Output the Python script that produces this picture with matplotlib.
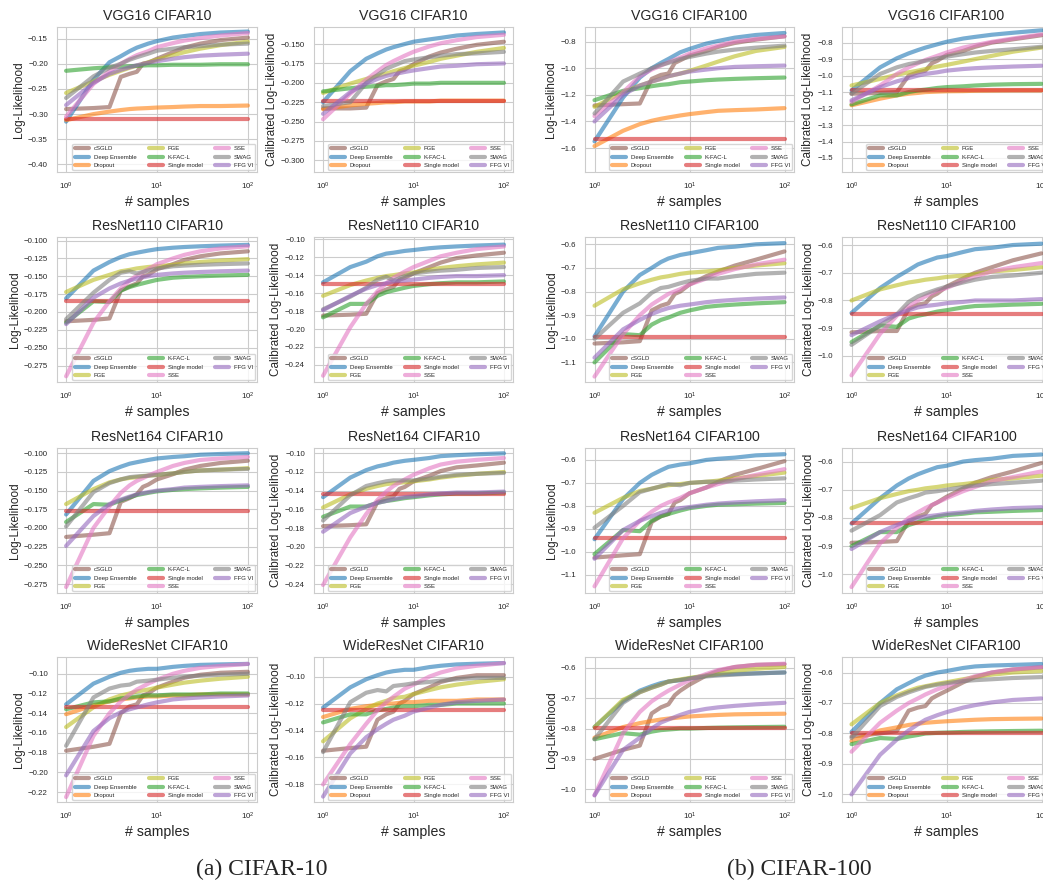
import numpy as np
import matplotlib
matplotlib.use('Agg')
import matplotlib.pyplot as plt
import seaborn as sns
from matplotlib.ticker import MultipleLocator

sns.set_style('whitegrid')
plt.rcParams['font.family'] = ['Liberation Sans', 'DejaVu Sans']

# number of samples in the ensemble
X = [1, 2, 3, 4, 5, 6, 8, 10, 15, 20, 30, 50, 100]
X_CSGLD = [1, 2, 3, 4, 5, 6, 7, 8, 10, 15, 20, 30, 50, 100]
X_SINGLE = [1, 100]

# ---- CIFAR10 ----
vgg16_c10_ll = {
    'cSGLD': [-0.290, -0.288, -0.286, -0.226, -0.220, -0.216, -0.200, -0.198, -0.190, -0.177, -0.168, -0.160, -0.153, -0.148],
    'Deep Ensemble': [-0.315, -0.232, -0.197, -0.185, -0.175, -0.168, -0.160, -0.155, -0.148, -0.145, -0.141, -0.138, -0.136],
    'Dropout': [-0.312, -0.300, -0.295, -0.292, -0.290, -0.289, -0.288, -0.287, -0.286, -0.285, -0.284, -0.284, -0.283],
    'FGE': [-0.258, -0.235, -0.222, -0.214, -0.208, -0.204, -0.197, -0.192, -0.183, -0.177, -0.170, -0.163, -0.156],
    'K-FAC-L': [-0.214, -0.209, -0.207, -0.206, -0.205, -0.204, -0.203, -0.203, -0.202, -0.202, -0.202, -0.201, -0.201],
    'Single model': [-0.309, -0.309],
    'SSE': [-0.305, -0.240, -0.215, -0.200, -0.190, -0.183, -0.175, -0.167, -0.159, -0.154, -0.149, -0.144, -0.139],
    'SWAG': [-0.268, -0.225, -0.208, -0.200, -0.192, -0.187, -0.180, -0.174, -0.170, -0.167, -0.165, -0.162, -0.160],
    'FFG VI': [-0.282, -0.238, -0.220, -0.212, -0.207, -0.203, -0.198, -0.195, -0.190, -0.187, -0.184, -0.182, -0.180],
}
vgg16_c10_cal = {
    'cSGLD': [-0.233, -0.233, -0.232, -0.203, -0.198, -0.195, -0.185, -0.183, -0.176, -0.166, -0.161, -0.156, -0.151, -0.147],
    'Deep Ensemble': [-0.225, -0.185, -0.169, -0.162, -0.157, -0.154, -0.150, -0.147, -0.144, -0.142, -0.139, -0.137, -0.135],
    'Dropout': [-0.234, -0.229, -0.227, -0.226, -0.225, -0.225, -0.224, -0.224, -0.224, -0.223, -0.223, -0.223, -0.223],
    'FGE': [-0.213, -0.201, -0.195, -0.191, -0.188, -0.185, -0.181, -0.178, -0.173, -0.169, -0.165, -0.160, -0.155],
    'K-FAC-L': [-0.211, -0.207, -0.205, -0.204, -0.203, -0.203, -0.202, -0.201, -0.201, -0.200, -0.200, -0.200, -0.200],
    'Single model': [-0.223, -0.223],
    'SSE': [-0.247, -0.214, -0.196, -0.185, -0.177, -0.172, -0.165, -0.160, -0.153, -0.149, -0.145, -0.141, -0.138],
    'SWAG': [-0.230, -0.225, -0.200, -0.190, -0.182, -0.178, -0.172, -0.170, -0.167, -0.165, -0.163, -0.162, -0.160],
    'FFG VI': [-0.240, -0.212, -0.201, -0.195, -0.191, -0.189, -0.186, -0.184, -0.181, -0.179, -0.178, -0.176, -0.175],
}
resnet110_c10_ll = {
    'cSGLD': [-0.213, -0.211, -0.209, -0.170, -0.164, -0.160, -0.150, -0.148, -0.140, -0.133, -0.127, -0.122, -0.118, -0.115],
    'Deep Ensemble': [-0.181, -0.142, -0.130, -0.123, -0.119, -0.117, -0.114, -0.112, -0.110, -0.109, -0.108, -0.107, -0.106],
    'FGE': [-0.172, -0.155, -0.148, -0.143, -0.141, -0.139, -0.137, -0.136, -0.134, -0.132, -0.130, -0.128, -0.126],
    'K-FAC-L': [-0.215, -0.185, -0.186, -0.170, -0.165, -0.162, -0.158, -0.155, -0.152, -0.151, -0.150, -0.149, -0.148],
    'Single model': [-0.184, -0.184],
    'SSE': [-0.290, -0.215, -0.185, -0.167, -0.156, -0.149, -0.140, -0.133, -0.125, -0.120, -0.115, -0.111, -0.108],
    'SWAG': [-0.210, -0.173, -0.155, -0.145, -0.143, -0.146, -0.142, -0.139, -0.136, -0.135, -0.134, -0.133, -0.132],
    'FFG VI': [-0.217, -0.180, -0.167, -0.160, -0.156, -0.153, -0.150, -0.148, -0.146, -0.145, -0.144, -0.143, -0.142],
}
resnet110_c10_cal = {
    'cSGLD': [-0.185, -0.184, -0.183, -0.160, -0.156, -0.153, -0.145, -0.143, -0.138, -0.131, -0.126, -0.121, -0.118, -0.115],
    'Deep Ensemble': [-0.148, -0.131, -0.125, -0.119, -0.116, -0.115, -0.113, -0.112, -0.110, -0.109, -0.108, -0.107, -0.106],
    'FGE': [-0.163, -0.151, -0.146, -0.143, -0.141, -0.140, -0.138, -0.137, -0.134, -0.132, -0.130, -0.128, -0.126],
    'K-FAC-L': [-0.187, -0.172, -0.172, -0.163, -0.159, -0.157, -0.154, -0.152, -0.150, -0.149, -0.148, -0.148, -0.147],
    'Single model': [-0.150, -0.150],
    'SSE': [-0.252, -0.198, -0.172, -0.158, -0.149, -0.143, -0.136, -0.131, -0.124, -0.119, -0.115, -0.111, -0.108],
    'SWAG': [-0.178, -0.164, -0.154, -0.145, -0.142, -0.146, -0.141, -0.138, -0.136, -0.135, -0.134, -0.132, -0.131],
    'FFG VI': [-0.179, -0.163, -0.155, -0.151, -0.149, -0.147, -0.146, -0.145, -0.143, -0.142, -0.141, -0.141, -0.140],
}
resnet164_c10_ll = {
    'cSGLD': [-0.212, -0.209, -0.207, -0.165, -0.160, -0.155, -0.145, -0.142, -0.135, -0.128, -0.122, -0.117, -0.113, -0.110],
    'Deep Ensemble': [-0.182, -0.137, -0.124, -0.118, -0.114, -0.112, -0.109, -0.107, -0.105, -0.104, -0.102, -0.101, -0.100],
    'FGE': [-0.168, -0.148, -0.139, -0.135, -0.133, -0.132, -0.130, -0.129, -0.127, -0.125, -0.123, -0.122, -0.120],
    'K-FAC-L': [-0.192, -0.168, -0.169, -0.163, -0.159, -0.156, -0.153, -0.151, -0.149, -0.148, -0.147, -0.146, -0.145],
    'Single model': [-0.177, -0.177],
    'SSE': [-0.279, -0.200, -0.171, -0.153, -0.143, -0.137, -0.130, -0.125, -0.117, -0.113, -0.109, -0.107, -0.105],
    'SWAG': [-0.198, -0.152, -0.140, -0.135, -0.132, -0.131, -0.130, -0.129, -0.127, -0.125, -0.123, -0.122, -0.121],
    'FFG VI': [-0.224, -0.184, -0.168, -0.162, -0.158, -0.155, -0.152, -0.150, -0.148, -0.146, -0.145, -0.144, -0.143],
}
resnet164_c10_cal = {
    'cSGLD': [-0.178, -0.177, -0.176, -0.152, -0.148, -0.146, -0.138, -0.136, -0.130, -0.124, -0.119, -0.115, -0.113, -0.110],
    'Deep Ensemble': [-0.147, -0.126, -0.118, -0.114, -0.112, -0.110, -0.108, -0.107, -0.105, -0.103, -0.102, -0.101, -0.100],
    'FGE': [-0.158, -0.144, -0.138, -0.135, -0.133, -0.132, -0.131, -0.130, -0.128, -0.126, -0.124, -0.122, -0.120],
    'K-FAC-L': [-0.168, -0.157, -0.157, -0.153, -0.151, -0.150, -0.148, -0.147, -0.145, -0.144, -0.143, -0.143, -0.142],
    'Single model': [-0.144, -0.144],
    'SSE': [-0.241, -0.190, -0.165, -0.150, -0.141, -0.135, -0.128, -0.123, -0.116, -0.112, -0.109, -0.107, -0.105],
    'SWAG': [-0.172, -0.145, -0.135, -0.132, -0.130, -0.129, -0.129, -0.129, -0.127, -0.125, -0.123, -0.122, -0.121],
    'FFG VI': [-0.184, -0.164, -0.157, -0.153, -0.151, -0.149, -0.147, -0.146, -0.144, -0.143, -0.142, -0.142, -0.141],
}
wrn_c10_ll = {
    'cSGLD': [-0.178, -0.174, -0.171, -0.140, -0.133, -0.131, -0.122, -0.120, -0.114, -0.108, -0.104, -0.101, -0.099, -0.098],
    'Deep Ensemble': [-0.131, -0.110, -0.103, -0.099, -0.097, -0.096, -0.095, -0.095, -0.093, -0.092, -0.091, -0.0905, -0.090],
    'Dropout': [-0.141, -0.132, -0.128, -0.126, -0.125, -0.124, -0.123, -0.123, -0.122, -0.122, -0.121, -0.121, -0.121],
    'FGE': [-0.154, -0.134, -0.126, -0.122, -0.120, -0.118, -0.116, -0.114, -0.111, -0.109, -0.107, -0.105, -0.103],
    'K-FAC-L': [-0.136, -0.129, -0.128, -0.125, -0.124, -0.123, -0.122, -0.122, -0.121, -0.121, -0.121, -0.120, -0.120],
    'Single model': [-0.134, -0.134],
    'SSE': [-0.225, -0.163, -0.140, -0.128, -0.121, -0.116, -0.110, -0.106, -0.100, -0.097, -0.094, -0.092, -0.090],
    'SWAG': [-0.173, -0.124, -0.115, -0.112, -0.111, -0.108, -0.107, -0.106, -0.104, -0.103, -0.102, -0.101, -0.100],
    'FFG VI': [-0.203, -0.158, -0.145, -0.139, -0.136, -0.134, -0.131, -0.129, -0.126, -0.125, -0.124, -0.123, -0.122],
}
wrn_c10_cal = {
    'cSGLD': [-0.155, -0.153, -0.152, -0.132, -0.128, -0.126, -0.120, -0.118, -0.113, -0.108, -0.104, -0.101, -0.099, -0.099],
    'Deep Ensemble': [-0.123, -0.108, -0.102, -0.099, -0.097, -0.096, -0.095, -0.095, -0.093, -0.092, -0.091, -0.0905, -0.090],
    'Dropout': [-0.130, -0.124, -0.122, -0.121, -0.120, -0.120, -0.119, -0.119, -0.118, -0.118, -0.118, -0.117, -0.117],
    'FGE': [-0.148, -0.131, -0.124, -0.120, -0.118, -0.116, -0.115, -0.113, -0.110, -0.108, -0.106, -0.104, -0.102],
    'K-FAC-L': [-0.134, -0.128, -0.128, -0.125, -0.124, -0.123, -0.122, -0.122, -0.121, -0.121, -0.120, -0.120, -0.120],
    'Single model': [-0.1245, -0.1245],
    'SSE': [-0.180, -0.150, -0.135, -0.125, -0.119, -0.115, -0.109, -0.106, -0.100, -0.097, -0.094, -0.092, -0.090],
    'SWAG': [-0.156, -0.119, -0.112, -0.110, -0.111, -0.107, -0.106, -0.105, -0.104, -0.103, -0.102, -0.101, -0.101],
    'FFG VI': [-0.189, -0.157, -0.145, -0.139, -0.135, -0.132, -0.129, -0.126, -0.123, -0.121, -0.119, -0.118, -0.117],
}

# ---- CIFAR100 ----
vgg16_c100_ll = {
    'cSGLD': [-1.28, -1.27, -1.265, -1.08, -1.05, -1.04, -0.96, -0.94, -0.905, -0.87, -0.84, -0.81, -0.785, -0.76],
    'Deep Ensemble': [-1.55, -1.22, -1.07, -1.00, -0.96, -0.93, -0.88, -0.855, -0.815, -0.795, -0.770, -0.75, -0.735],
    'Dropout': [-1.585, -1.47, -1.42, -1.395, -1.38, -1.37, -1.355, -1.345, -1.33, -1.32, -1.315, -1.31, -1.30],
    'FGE': [-1.29, -1.18, -1.13, -1.10, -1.08, -1.06, -1.04, -1.02, -0.98, -0.95, -0.91, -0.87, -0.84],
    'K-FAC-L': [-1.24, -1.17, -1.15, -1.135, -1.125, -1.12, -1.105, -1.10, -1.09, -1.085, -1.08, -1.075, -1.07],
    'Single model': [-1.53, -1.53],
    'SSE': [-1.36, -1.18, -1.06, -1.01, -0.98, -0.955, -0.92, -0.89, -0.85, -0.83, -0.80, -0.78, -0.76],
    'SWAG': [-1.34, -1.10, -1.04, -1.00, -0.975, -0.96, -0.93, -0.915, -0.89, -0.875, -0.86, -0.845, -0.83],
    'FFG VI': [-1.40, -1.20, -1.13, -1.10, -1.08, -1.06, -1.04, -1.025, -1.01, -1.00, -0.99, -0.985, -0.98],
}
vgg16_c100_cal = {
    'cSGLD': [-1.11, -1.105, -1.10, -1.00, -0.98, -0.97, -0.925, -0.91, -0.875, -0.85, -0.825, -0.80, -0.78, -0.755],
    'Deep Ensemble': [-1.09, -0.95, -0.895, -0.865, -0.845, -0.83, -0.81, -0.795, -0.775, -0.765, -0.752, -0.74, -0.725],
    'Dropout': [-1.18, -1.14, -1.12, -1.11, -1.105, -1.10, -1.097, -1.095, -1.094, -1.092, -1.091, -1.090, -1.09],
    'FGE': [-1.06, -1.02, -0.995, -0.98, -0.97, -0.96, -0.945, -0.935, -0.915, -0.90, -0.88, -0.855, -0.83],
    'K-FAC-L': [-1.175, -1.12, -1.12, -1.10, -1.09, -1.085, -1.075, -1.07, -1.065, -1.06, -1.055, -1.052, -1.05],
    'Single model': [-1.088, -1.088],
    'SSE': [-1.16, -1.06, -0.99, -0.95, -0.925, -0.905, -0.88, -0.86, -0.83, -0.815, -0.795, -0.775, -0.75],
    'SWAG': [-1.11, -0.99, -0.95, -0.93, -0.92, -0.91, -0.895, -0.885, -0.87, -0.86, -0.85, -0.84, -0.825],
    'FFG VI': [-1.15, -1.07, -1.035, -1.015, -1.00, -0.99, -0.98, -0.97, -0.96, -0.955, -0.95, -0.945, -0.94],
}
resnet110_c100_ll = {
    'cSGLD': [-1.02, -1.015, -1.01, -0.88, -0.86, -0.85, -0.81, -0.80, -0.77, -0.735, -0.715, -0.69, -0.665, -0.63],
    'Deep Ensemble': [-0.99, -0.80, -0.73, -0.70, -0.675, -0.66, -0.645, -0.638, -0.625, -0.615, -0.61, -0.60, -0.595],
    'FGE': [-0.86, -0.79, -0.765, -0.75, -0.74, -0.735, -0.725, -0.72, -0.715, -0.71, -0.70, -0.69, -0.68],
    'K-FAC-L': [-1.10, -0.98, -0.985, -0.94, -0.92, -0.91, -0.89, -0.88, -0.865, -0.86, -0.855, -0.85, -0.845],
    'Single model': [-0.993, -0.993],
    'SSE': [-1.16, -0.98, -0.90, -0.855, -0.83, -0.81, -0.79, -0.77, -0.745, -0.725, -0.705, -0.685, -0.665],
    'SWAG': [-1.00, -0.89, -0.85, -0.805, -0.785, -0.78, -0.765, -0.755, -0.745, -0.745, -0.735, -0.725, -0.72],
    'FFG VI': [-1.08, -0.96, -0.92, -0.895, -0.88, -0.87, -0.86, -0.855, -0.845, -0.84, -0.835, -0.83, -0.825],
}
resnet110_c100_cal = {
    'cSGLD': [-0.915, -0.91, -0.91, -0.83, -0.815, -0.81, -0.785, -0.775, -0.75, -0.72, -0.70, -0.68, -0.655, -0.63],
    'Deep Ensemble': [-0.845, -0.755, -0.715, -0.69, -0.67, -0.66, -0.645, -0.64, -0.625, -0.615, -0.61, -0.60, -0.595],
    'FGE': [-0.80, -0.76, -0.745, -0.735, -0.73, -0.725, -0.72, -0.715, -0.71, -0.705, -0.695, -0.69, -0.68],
    'K-FAC-L': [-0.95, -0.89, -0.895, -0.865, -0.855, -0.85, -0.84, -0.835, -0.825, -0.82, -0.818, -0.815, -0.812],
    'Single model': [-0.848, -0.848],
    'SSE': [-1.07, -0.92, -0.855, -0.82, -0.80, -0.785, -0.765, -0.755, -0.73, -0.715, -0.695, -0.68, -0.665],
    'SWAG': [-0.96, -0.89, -0.85, -0.805, -0.785, -0.775, -0.76, -0.75, -0.735, -0.725, -0.715, -0.71, -0.70],
    'FFG VI': [-0.925, -0.875, -0.85, -0.835, -0.825, -0.82, -0.815, -0.81, -0.805, -0.80, -0.80, -0.80, -0.795],
}
resnet164_c100_ll = {
    'cSGLD': [-1.025, -1.015, -1.01, -0.87, -0.845, -0.835, -0.785, -0.775, -0.745, -0.72, -0.695, -0.665, -0.64, -0.605],
    'Deep Ensemble': [-0.945, -0.77, -0.70, -0.665, -0.645, -0.63, -0.62, -0.615, -0.60, -0.595, -0.59, -0.58, -0.575],
    'FGE': [-0.83, -0.765, -0.735, -0.725, -0.715, -0.71, -0.705, -0.70, -0.695, -0.69, -0.68, -0.67, -0.655],
    'K-FAC-L': [-1.01, -0.905, -0.91, -0.865, -0.845, -0.835, -0.82, -0.81, -0.80, -0.795, -0.793, -0.79, -0.787],
    'Single model': [-0.94, -0.94],
    'SSE': [-1.15, -0.94, -0.865, -0.825, -0.80, -0.785, -0.765, -0.745, -0.72, -0.705, -0.685, -0.665, -0.64],
    'SWAG': [-0.895, -0.80, -0.74, -0.725, -0.715, -0.705, -0.71, -0.70, -0.695, -0.695, -0.69, -0.685, -0.68],
    'FFG VI': [-1.03, -0.905, -0.865, -0.845, -0.83, -0.82, -0.81, -0.805, -0.795, -0.79, -0.785, -0.78, -0.775],
}
resnet164_c100_cal = {
    'cSGLD': [-0.888, -0.885, -0.882, -0.81, -0.795, -0.785, -0.755, -0.745, -0.725, -0.695, -0.675, -0.655, -0.635, -0.605],
    'Deep Ensemble': [-0.82, -0.73, -0.685, -0.66, -0.645, -0.635, -0.62, -0.615, -0.60, -0.595, -0.59, -0.58, -0.575],
    'FGE': [-0.765, -0.73, -0.715, -0.705, -0.70, -0.695, -0.69, -0.685, -0.68, -0.675, -0.665, -0.66, -0.65],
    'K-FAC-L': [-0.90, -0.85, -0.85, -0.825, -0.815, -0.805, -0.795, -0.79, -0.785, -0.78, -0.778, -0.775, -0.772],
    'Single model': [-0.818, -0.818],
    'SSE': [-1.045, -0.89, -0.835, -0.80, -0.78, -0.765, -0.745, -0.73, -0.705, -0.69, -0.67, -0.655, -0.635],
    'SWAG': [-0.845, -0.79, -0.745, -0.73, -0.72, -0.71, -0.705, -0.70, -0.69, -0.685, -0.68, -0.675, -0.668],
    'FFG VI': [-0.91, -0.85, -0.825, -0.81, -0.80, -0.795, -0.79, -0.785, -0.78, -0.775, -0.77, -0.765, -0.762],
}
wrn_c100_ll = {
    'cSGLD': [-0.90, -0.87, -0.856, -0.75, -0.73, -0.72, -0.69, -0.675, -0.655, -0.625, -0.61, -0.597, -0.59, -0.588],
    'Deep Ensemble': [-0.795, -0.71, -0.675, -0.66, -0.65, -0.645, -0.64, -0.635, -0.625, -0.622, -0.62, -0.618, -0.615],
    'Dropout': [-0.83, -0.795, -0.782, -0.775, -0.77, -0.767, -0.763, -0.76, -0.757, -0.755, -0.753, -0.752, -0.751],
    'FGE': [-0.795, -0.705, -0.68, -0.665, -0.655, -0.645, -0.638, -0.633, -0.625, -0.62, -0.61, -0.603, -0.597],
    'K-FAC-L': [-0.835, -0.815, -0.82, -0.81, -0.805, -0.803, -0.80, -0.80, -0.798, -0.797, -0.796, -0.795, -0.794],
    'Single model': [-0.798, -0.798],
    'SSE': [-1.02, -0.815, -0.745, -0.71, -0.69, -0.675, -0.655, -0.64, -0.62, -0.607, -0.597, -0.59, -0.586],
    'SWAG': [-0.835, -0.715, -0.68, -0.665, -0.655, -0.645, -0.64, -0.635, -0.628, -0.625, -0.622, -0.618, -0.615],
    'FFG VI': [-1.02, -0.87, -0.83, -0.80, -0.78, -0.77, -0.755, -0.745, -0.735, -0.73, -0.725, -0.72, -0.715],
}
wrn_c100_cal = {
    'cSGLD': [-0.81, -0.80, -0.792, -0.725, -0.715, -0.71, -0.685, -0.675, -0.66, -0.632, -0.615, -0.60, -0.59, -0.583],
    'Deep Ensemble': [-0.795, -0.70, -0.655, -0.635, -0.62, -0.61, -0.60, -0.595, -0.585, -0.58, -0.577, -0.575, -0.572],
    'Dropout': [-0.825, -0.79, -0.78, -0.772, -0.768, -0.765, -0.762, -0.76, -0.757, -0.755, -0.753, -0.752, -0.751],
    'FGE': [-0.77, -0.70, -0.675, -0.66, -0.65, -0.645, -0.637, -0.632, -0.622, -0.615, -0.607, -0.600, -0.595],
    'K-FAC-L': [-0.835, -0.815, -0.818, -0.81, -0.805, -0.80, -0.798, -0.797, -0.795, -0.794, -0.793, -0.792, -0.791],
    'Single model': [-0.798, -0.798],
    'SSE': [-0.86, -0.765, -0.725, -0.70, -0.685, -0.672, -0.655, -0.645, -0.625, -0.612, -0.60, -0.59, -0.582],
    'SWAG': [-0.815, -0.71, -0.68, -0.665, -0.655, -0.647, -0.64, -0.635, -0.628, -0.625, -0.622, -0.618, -0.615],
    'FFG VI': [-1.00, -0.87, -0.82, -0.79, -0.77, -0.755, -0.74, -0.73, -0.715, -0.707, -0.698, -0.69, -0.685],
}

METHODS = ['cSGLD', 'Deep Ensemble', 'Dropout', 'FGE', 'K-FAC-L',
           'Single model', 'SSE', 'SWAG', 'FFG VI']
COLORS = {'cSGLD': 'tab:brown', 'Deep Ensemble': 'tab:blue', 'Dropout': 'tab:orange',
          'FGE': 'tab:olive', 'K-FAC-L': 'tab:green', 'Single model': 'tab:red',
          'SSE': 'tab:pink', 'SWAG': 'tab:gray', 'FFG VI': 'tab:purple'}

ROWS = ['VGG16', 'ResNet110', 'ResNet164', 'WideResNet']
panels = [
    [(vgg16_c10_ll, (-0.415, -0.127), 0.05), (vgg16_c10_cal, (-0.315, -0.128), 0.025),
     (vgg16_c100_ll, (-1.78, -0.69), 0.2), (vgg16_c100_cal, (-1.585, -0.705), 0.1)],
    [(resnet110_c10_ll, (-0.298, -0.095), 0.025), (resnet110_c10_cal, (-0.259, -0.0975), 0.02),
     (resnet110_c100_ll, (-1.183, -0.569), 0.1), (resnet110_c100_cal, (-1.094, -0.571), 0.1)],
    [(resnet164_c10_ll, (-0.287, -0.093), 0.025), (resnet164_c10_cal, (-0.2496, -0.0943), 0.02),
     (resnet164_c100_ll, (-1.179, -0.548), 0.1), (resnet164_c100_cal, (-1.066, -0.552), 0.1)],
    [(wrn_c10_ll, (-0.230, -0.083), 0.02), (wrn_c10_cal, (-0.193, -0.0855), 0.02),
     (wrn_c100_ll, (-1.042, -0.564), 0.1), (wrn_c100_cal, (-1.025, -0.549), 0.1)],
]
col_titles = ['CIFAR10', 'CIFAR10', 'CIFAR100', 'CIFAR100']
col_ylabels = ['Log-Likelihood', 'Calibrated Log-Likelihood',
               'Log-Likelihood', 'Calibrated Log-Likelihood']

W, H = 1043, 884
fig = plt.figure(figsize=(W / 100, H / 100), dpi=100)
lefts = [57, 314, 585, 842]
widths = [200, 199, 209, 209]
tops = [27, 237, 448, 657]
ax_h = 145

for r in range(4):
    for c in range(4):
        data, ylim, step = panels[r][c]
        ax = fig.add_axes([lefts[c] / W, 1 - (tops[r] + ax_h) / H, widths[c] / W, ax_h / H])
        for m in METHODS:
            if m not in data:
                continue
            if m == 'cSGLD':
                xs = X_CSGLD
            elif m == 'Single model':
                xs = X_SINGLE
            else:
                xs = X
            ax.plot(xs, data[m], color=COLORS[m], lw=3, alpha=0.6, label=m)
        ax.set_xscale('log')
        ax.set_ylim(*ylim)
        ax.yaxis.set_major_locator(MultipleLocator(step))
        ax.tick_params(labelsize=5.7, pad=3)
        ax.set_title(f'{ROWS[r]} {col_titles[c]}', fontsize=10.2, pad=5)
        ax.set_ylabel(col_ylabels[c], fontsize=8.5, labelpad=2)
        ax.set_xlabel('# samples', fontsize=10.2, labelpad=2)
        ax.legend(loc='lower right', ncol=3, fontsize=4.3, borderaxespad=0.3,
                  handlelength=2.4, frameon=True)

fig.text(262 / W, 0.016, '(a) CIFAR-10', fontsize=17, ha='center', va='center',
         family=['Liberation Serif', 'DejaVu Serif'])
fig.text(799 / W, 0.016, '(b) CIFAR-100', fontsize=17, ha='center', va='center',
         family=['Liberation Serif', 'DejaVu Serif'])

fig.savefig('out.png', dpi=100)
